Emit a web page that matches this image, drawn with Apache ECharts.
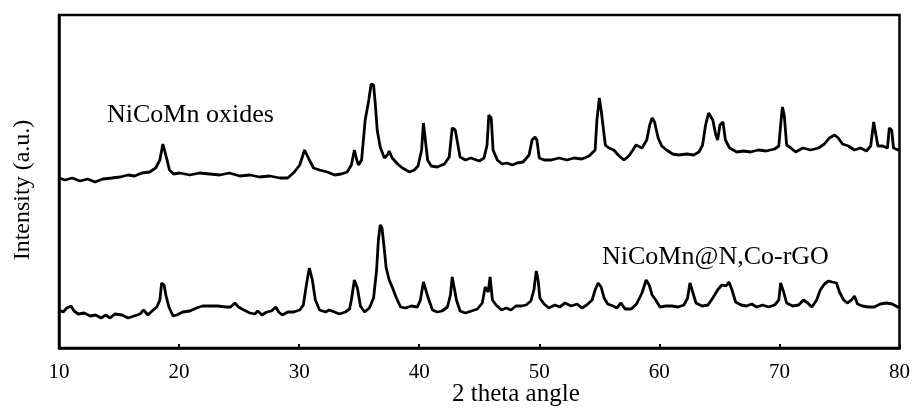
<!DOCTYPE html>
<html>
<head>
<meta charset="utf-8">
<title>XRD</title>
<script src="https://cdn.jsdelivr.net/npm/echarts@6/dist/echarts.min.js"></script>
<style>
  html, body { margin: 0; padding: 0; background: #fff; }
  #main { width: 913px; height: 410px; }
</style>
</head>
<body>
<div id="main"></div>
<script>
// 2 theta ticks
const xTicks = [10, 20, 30, 40, 50, 60, 70, 80];
const seriesNames = ["NiCoMn oxides", "NiCoMn@N,Co-rGO"];

// [2theta, intensity (a.u., stacked offset)]
const oxidesXrd = [
  [10.0,170],[10.5,168],[11.1,170],[11.75,167],[12.4,169],[13.0,166],[13.65,169],[14.4,170],
  [15.1,171],[15.75,173],[16.3,172],[16.9,175],[17.55,176],[18.05,180],[18.4,188],[18.65,204],
  [18.8,204],[19.0,188],[19.2,178],[19.55,174],[20.05,175],[20.9,173],[21.7,175],[22.55,174],
  [23.4,173],[24.2,175],[25.05,172],[25.9,173],[26.7,171],[27.55,172],[28.4,170],[29.05,170],
  [29.6,176],[30.05,183],[30.45,198],[30.6,200],[30.85,188],[31.2,180],[31.7,178],[32.35,176],
  [32.95,173],[33.5,174],[34.0,176],[34.35,183],[34.6,198],[34.8,188],[34.95,183],[35.2,188],
  [35.5,228],[35.8,248],[36.0,264],[36.2,263],[36.35,243],[36.5,218],[36.75,201],[37.1,190],
  [37.35,193],[37.5,197],[37.75,190],[38.2,184],[38.6,180],[39.2,176],[39.6,178],[39.9,182],
  [40.2,198],[40.35,225],[40.5,223],[40.7,188],[41.0,182],[41.5,181],[42.1,184],[42.5,191],
  [42.75,220],[43.0,218],[43.15,208],[43.4,191],[43.85,188],[44.3,190],[45.0,187],[45.4,190],
  [45.65,203],[45.8,233],[46.0,230],[46.15,198],[46.5,188],[46.9,184],[47.3,185],[47.75,183],
  [48.15,185],[48.65,186],[49.15,193],[49.4,208],[49.65,211],[49.8,208],[50.0,190],[50.4,188],
  [51.0,188],[51.65,190],[52.3,188],[52.9,190],[53.55,189],[54.15,192],[54.65,198],[54.8,228],
  [55.0,250],[55.15,238],[55.3,240],[55.5,203],[55.8,200],[56.2,198],[56.65,192],[57.05,188],
  [57.45,192],[57.8,198],[58.05,203],[58.55,200],[58.95,208],[59.2,223],[59.4,230],[59.6,226],
  [59.9,210],[60.2,202],[60.6,198],[61.1,194],[61.6,193],[62.3,194],[62.85,193],[63.3,196],
  [63.6,203],[63.85,223],[64.1,235],[64.45,228],[64.7,213],[64.85,208],[65.05,223],[65.3,226],
  [65.5,208],[65.85,200],[66.45,196],[67.0,197],[67.6,196],[68.25,198],[68.9,197],[69.6,199],
  [69.95,202],[70.1,223],[70.25,241],[70.4,233],[70.6,203],[70.95,200],[71.35,196],[71.95,200],
  [72.6,198],[73.25,200],[73.75,204],[74.15,210],[74.6,213],[74.9,210],[75.25,204],[75.75,202],
  [76.25,198],[76.75,200],[77.25,197],[77.6,202],[77.85,226],[78.0,224],[78.2,202],[78.6,202],
  [79.0,200],[79.15,220],[79.35,218],[79.5,200],[79.9,198],[80.0,198]
];

const rgoXrd = [
  [10.0,38],[10.35,36],[10.65,40],[11.0,42],[11.25,37],[11.6,34],[12.1,35],[12.6,32],
  [13.05,33],[13.5,30],[13.9,33],[14.25,30],[14.65,34],[15.25,33],[15.75,30],[16.25,32],
  [16.75,34],[17.05,38],[17.4,33],[17.75,37],[18.15,41],[18.4,48],[18.55,65],[18.75,63],
  [18.9,53],[19.15,41],[19.5,32],[19.8,33],[20.3,36],[20.9,37],[21.45,40],[21.95,42],
  [22.55,42],[23.2,42],[23.9,41],[24.3,41],[24.65,45],[24.95,41],[25.4,38],[25.9,35],
  [26.3,34],[26.55,37],[26.9,33],[27.3,36],[27.7,37],[28.05,41],[28.3,36],[28.6,33],
  [29.05,36],[29.55,36],[30.05,38],[30.35,43],[30.6,63],[30.85,80],[31.1,68],[31.35,48],
  [31.7,38],[32.2,36],[32.5,38],[32.95,36],[33.35,34],[33.85,36],[34.2,39],[34.35,48],
  [34.6,68],[34.85,60],[35.1,42],[35.45,36],[35.85,40],[36.2,50],[36.45,78],[36.6,108],
  [36.75,123],[36.9,120],[37.1,98],[37.25,80],[37.5,68],[37.75,61],[38.1,50],[38.45,41],
  [38.85,40],[39.35,42],[39.85,41],[40.1,48],[40.35,66],[40.5,66],[40.75,50],[41.1,38],
  [41.5,36],[41.9,37],[42.35,41],[42.6,53],[42.75,71],[42.9,71],[43.1,48],[43.4,37],
  [43.85,35],[44.35,37],[44.85,39],[45.25,45],[45.5,61],[45.65,63],[45.75,56],[45.9,71],
  [46.1,48],[46.4,43],[46.85,38],[47.25,40],[47.65,38],[48.05,42],[48.5,42],[48.9,43],
  [49.3,47],[49.55,58],[49.75,77],[49.9,68],[50.05,50],[50.4,44],[50.8,40],[51.3,43],
  [51.7,41],[52.15,45],[52.65,42],[53.15,44],[53.55,40],[53.95,43],[54.4,48],[54.65,58],
  [54.9,65],[55.15,61],[55.4,50],[55.7,44],[56.15,42],[56.45,40],[56.8,45],[57.15,39],
  [57.65,39],[58.1,44],[58.55,55],[58.9,68],[59.15,63],[59.4,53],[59.7,48],[60.05,41],
  [60.55,42],[61.05,42],[61.55,41],[62.05,43],[62.35,50],[62.55,65],[62.8,55],[63.05,45],
  [63.55,42],[64.05,43],[64.45,50],[64.85,58],[65.2,63],[65.55,62],[65.8,66],[66.05,58],
  [66.35,46],[66.8,43],[67.25,42],[67.7,44],[68.1,41],[68.6,43],[69.1,41],[69.6,43],
  [69.95,48],[70.1,65],[70.35,56],[70.6,45],[71.1,42],[71.6,43],[72.0,48],[72.35,45],
  [72.7,41],[73.1,48],[73.4,58],[73.75,64],[74.1,67],[74.4,66],[74.75,65],[75.0,56],
  [75.35,48],[75.65,45],[76.0,48],[76.25,52],[76.5,44],[76.9,42],[77.4,41],[77.9,41],
  [78.4,44],[78.9,45],[79.4,44],[79.85,41],[80.0,41]
];

var dom = document.getElementById("main");
var myChart = echarts.init(dom, null, { renderer: "canvas" });
var serif = "Liberation Serif";

var option = {
  backgroundColor: "#fff",
  animation: false,
  grid: {
    left: 59,
    right: 12,
    top: 15,
    bottom: 62,
    show: true,
    borderColor: "#000",
    borderWidth: 2.5,
  },
  xAxis: {
    type: "value",
    min: xTicks[0],
    max: xTicks[xTicks.length - 1],
    interval: 10,
    axisLine: { show: true, lineStyle: { color: "#000", width: 2.5 } },
    axisTick: { show: true, inside: true, length: 4, lineStyle: { color: "#000", width: 2 } },
    splitLine: { show: false },
    axisLabel: {
      color: "#000",
      fontFamily: serif,
      fontSize: 21,
      margin: 14,
    },
  },
  yAxis: {
    type: "value",
    min: 0,
    max: 333,
    axisLine: { show: true, lineStyle: { color: "#000", width: 2.5 } },
    axisTick: { show: false },
    axisLabel: { show: false },
    splitLine: { show: false },
  },
  graphic: [
    {
      type: "text",
      left: 452,
      top: 382,
      style: { text: "2 theta angle", font: "25px 'Liberation Serif'", fill: "#000" },
    },
    {
      type: "text",
      x: 23,
      y: 190,
      rotation: Math.PI / 2,
      style: {
        text: "Intensity (a.u.)",
        font: "24px 'Liberation Serif'",
        fill: "#000",
        align: "center",
        verticalAlign: "middle",
      },
    },
    {
      type: "text",
      left: 107,
      top: 102,
      style: { text: seriesNames[0], font: "26px 'Liberation Serif'", fill: "#000" },
    },
    {
      type: "text",
      left: 602,
      top: 244,
      style: { text: seriesNames[1], font: "26px 'Liberation Serif'", fill: "#000" },
    },
  ],
  series: [
    {
      name: seriesNames[0],
      type: "line",
      data: oxidesXrd,
      showSymbol: false,
      lineStyle: { color: "#000", width: 2.8 },
    },
    {
      name: seriesNames[1],
      type: "line",
      data: rgoXrd,
      showSymbol: false,
      lineStyle: { color: "#000", width: 2.8 },
    },
  ],
};

if (option && typeof option === "object") {
  myChart.setOption(option);
}
window.addEventListener("resize", myChart.resize);
</script>
</body>
</html>
